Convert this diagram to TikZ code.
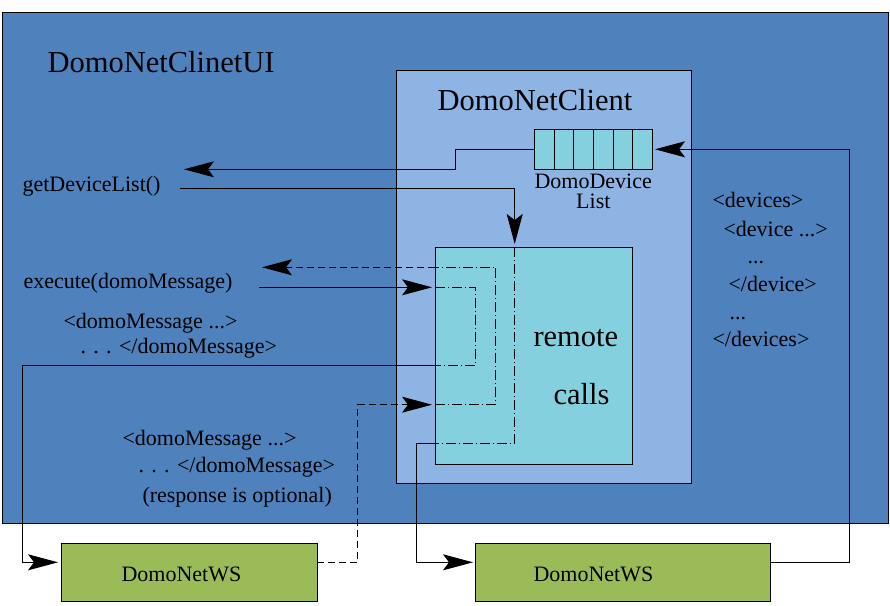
\documentclass[tikz,border=0pt]{standalone}
\usepackage{fontspec}
\setmainfont{Liberation Serif}
\usetikzlibrary{arrows.meta}
\definecolor{uiblue}{RGB}{79,129,189}
\definecolor{clientblue}{RGB}{142,180,227}
\definecolor{rccyan}{RGB}{133,208,222}
\definecolor{wsgreen}{RGB}{155,187,89}
\begin{document}
\begin{tikzpicture}[x=1pt,y=-1pt,line width=1pt,
  box/.style={draw=black,inner sep=0pt,outer sep=0pt},
  smalltxt/.style={inner sep=0pt,anchor=base west,font=\fontsize{22}{22}\selectfont},
  bigtxt/.style={inner sep=0pt,anchor=base west,font=\fontsize{30.5}{30.5}\selectfont},
  arr/.style={-{Stealth[length=30pt,width=16pt,inset=6pt]}},
  dashdot/.style={dash pattern=on 10pt off 3pt on 1pt off 3pt},
  dsh/.style={dash pattern=on 7pt off 4pt}]
\useasboundingbox (0,0) rectangle (890,605);
% boxes
\node[box,fill=uiblue,minimum width=886pt,minimum height=511pt] (ui) at (445,267.5) {};
\node[box,fill=clientblue,minimum width=295pt,minimum height=413pt] (client) at (544.2,276.5) {};
\node[box,fill=rccyan,minimum width=196.7pt,minimum height=217pt] (rc) at (533.65,355.5) {};
\node[box,fill=rccyan,minimum width=118pt,minimum height=40pt] (queue) at (593,149.3) {};
\foreach \i/\xx in {1/554.3,2/573.7,3/593.3,4/613.3,5/632.7}
  \draw (\xx,129.3) -- (\xx,169.3);
\node[box,fill=wsgreen,minimum width=255.6pt,minimum height=58.4pt] (wsL) at (189.5,572.5) {};
\node[box,fill=wsgreen,minimum width=294.3pt,minimum height=58.4pt] (wsR) at (622.85,572.5) {};
% texts
\node[bigtxt] (tui) at (47,72) {DomoNetClinetUI};
\node[bigtxt] (tclient) at (437,110) {DomoNetClient};
\node[bigtxt] (trem) at (533,346) {remote};
\node[bigtxt] (tcalls) at (553,404) {calls};
\node[smalltxt] (tdd) at (534,188) {DomoDevice};
\node[smalltxt] (tlist) at (575.7,208) {List};
\node[smalltxt] (tget) at (22,191) {getDeviceList()};
\node[smalltxt] (texec) at (23,288) {execute(domoMessage)};
\node[smalltxt] (tm1) at (63,328) {<domoMessage ...>};
\node[smalltxt] (tm2) at (80,353) {. . . </domoMessage>};
\node[smalltxt] (tm3) at (122,445) {<domoMessage ...>};
\node[smalltxt] (tm4) at (138,472) {. . . </domoMessage>};
\node[smalltxt] (tresp) at (142,502) {(response is optional)};
\node[smalltxt] (td1) at (712,207) {<devices>};
\node[smalltxt] (td2) at (723,236) {<device ...>};
\node[smalltxt] (td3) at (747,263) {...};
\node[smalltxt] (td4) at (728,291) {</device>};
\node[smalltxt] (td5) at (729,319) {...};
\node[smalltxt] (td6) at (712,346) {</devices>};
\node[smalltxt] (twsl) at (121,581) {DomoNetWS};
\node[smalltxt] (twsr) at (533,581) {DomoNetWS};
% coordinates
\coordinate (q1) at (455,149.3);
\coordinate (q2) at (455,169.3);
\coordinate (q3) at (184,169.3);
\coordinate (g0) at (180,188.3);
\coordinate (g1) at (514.7,188.3);
\coordinate (g2) at (514.7,244);
\coordinate (g2b) at (514.7,247);
\coordinate (g3) at (514.7,443.3);
\coordinate (g4) at (435.3,443.3);
\coordinate (g5) at (416.7,443.3);
\coordinate (g6) at (416.7,562.3);
\coordinate (g7) at (473,562.3);
\coordinate (r0) at (770,562.3);
\coordinate (r1) at (849.3,562.3);
\coordinate (r2) at (849.3,149.3);
\coordinate (r3) at (655,149.3);
\coordinate (e0) at (259,287.3);
\coordinate (e1) at (432,287.3);
\coordinate (e2) at (435.3,287.3);
\coordinate (e3) at (475.7,287.3);
\coordinate (e4) at (475.7,365);
\coordinate (e5) at (435.3,365);
\coordinate (e6) at (22.3,365);
\coordinate (e7) at (22.3,562.3);
\coordinate (e8) at (58,562.3);
\coordinate (s0) at (317.3,562.3);
\coordinate (s1) at (357.7,562.3);
\coordinate (s2) at (357.7,404.7);
\coordinate (s3) at (432,404.7);
\coordinate (s4) at (435.3,404.7);
\coordinate (s5) at (495.7,404.7);
\coordinate (s6) at (495.7,267.3);
\coordinate (s7) at (435.3,267.3);
\coordinate (s8) at (262,267.3);
% connectors
\draw[arr] (queue.west) -- (q1) -- (q2) -- (q3);
\draw[arr] (g0) -- (g1) -- (g2);
\draw[dashdot] (g2b) -- (g3) -- (g4);
\draw[arr] (g4) -- (g5) -- (g6) -- (g7);
\draw[arr] (r0) -- (r1) -- (r2) -- (r3);
\draw[arr] (e0) -- (e1);
\draw[dashdot] (e2) -- (e3) -- (e4) -- (e5);
\draw[arr] (e5) -- (e6) -- (e7) -- (e8);
\draw[arr,dsh] (s0) -- (s1) -- (s2) -- (s3);
\draw[dashdot] (s4) -- (s5) -- (s6) -- (s7);
\draw[arr,dsh] (s7) -- (s8);
\end{tikzpicture}
\end{document}
